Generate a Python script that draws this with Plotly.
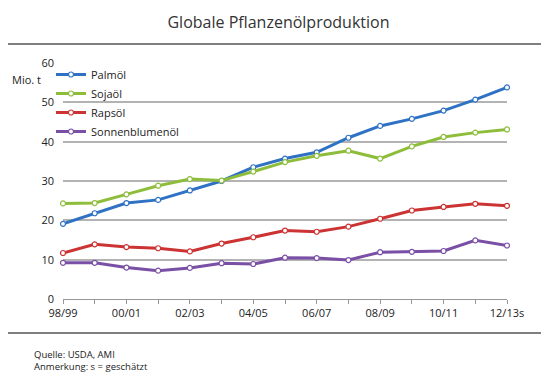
import plotly.graph_objects as go

categories = ["98/99", "99/00", "00/01", "01/02", "02/03", "03/04", "04/05", "05/06",
              "06/07", "07/08", "08/09", "09/10", "10/11", "11/12", "12/13s"]
tick_labels = ["98/99", "", "00/01", "", "02/03", "", "04/05", "",
               "06/07", "", "08/09", "", "10/11", "", "12/13s"]

palmoel = [19.1, 21.8, 24.4, 25.2, 27.6, 30.0, 33.5, 35.7, 37.3, 41.0, 44.0, 45.8, 47.9, 50.7, 53.8]
sojaoel = [24.3, 24.4, 26.6, 28.8, 30.5, 30.1, 32.4, 34.8, 36.4, 37.7, 35.7, 38.8, 41.2, 42.3, 43.1]
rapsoel = [11.7, 13.9, 13.2, 12.9, 12.1, 14.1, 15.7, 17.4, 17.1, 18.4, 20.4, 22.5, 23.4, 24.2, 23.7]
sonnenblumenoel = [9.2, 9.2, 8.0, 7.2, 7.9, 9.1, 8.9, 10.5, 10.4, 9.9, 11.9, 12.0, 12.2, 14.9, 13.6]

series = [
    ("Palmöl", palmoel, "#2f72c4"),
    ("Sojaöl", sojaoel, "#8dbd3a"),
    ("Rapsöl", rapsoel, "#cc3333"),
    ("Sonnenblumenöl", sonnenblumenoel, "#7a4fa6"),
]

fig = go.Figure()
for name, vals, col in series:
    fig.add_trace(go.Scatter(
        x=categories, y=vals, name=name, mode="lines+markers",
        line=dict(color=col, width=3),
        marker=dict(symbol="circle", size=5, color="white", line=dict(color=col, width=1.2)),
        cliponaxis=False,
    ))

# page body has an 8px default margin -> figure is 8px smaller and offset
PW, PH = 444, 236
font = "Open Sans, Noto Sans, sans-serif"
fig.update_layout(
    width=541, height=367,
    margin=dict(l=55, r=42, t=55, b=76, autoexpand=False),
    paper_bgcolor="white", plot_bgcolor="white",
    font=dict(family=font, size=11, color="#333333"),
    title=dict(text="Globale Pflanzenölproduktion", x=0.5, xanchor="center",
               y=1 - 14/367, yanchor="middle", font=dict(size=16, color="#333333")),
    showlegend=True,
    legend=dict(x=-12/PW, y=1 + 3/PH, xanchor="left", yanchor="top", bgcolor="rgba(0,0,0,0)",
                font=dict(size=11, color="#222222"), itemwidth=30, tracegroupgap=3),
    xaxis=dict(type="category", range=[0, 14], tickmode="array", tickvals=categories,
               ticktext=tick_labels, showgrid=False, showline=True, linecolor="#999999",
               linewidth=1, ticks="outside", ticklen=4, tickcolor="#999999",
               tickfont=dict(size=11, color="#222222"), zeroline=False),
    yaxis=dict(range=[0, 60], dtick=10, showgrid=True, gridcolor="#b3b3b3", gridwidth=1.5,
               zeroline=False, showline=False, ticks="", ticklabelstandoff=8,
               tickfont=dict(size=11, color="#222222")),
    shapes=[
        dict(type="line", xref="paper", yref="paper", layer="above",
             x0=-55/PW, x1=(541-55)/PW, y0=1 + (63-44)/PH, y1=1 + (63-44)/PH,
             line=dict(color="#555555", width=1.5)),
        dict(type="line", xref="paper", yref="paper", layer="above",
             x0=-55/PW, x1=(541-55)/PW, y0=-(333-299)/PH, y1=-(333-299)/PH,
             line=dict(color="#555555", width=1.5)),
    ],
    annotations=[
        dict(text="Mio. t", xref="paper", yref="paper", x=-20/PW, y=1 - (79-63)/PH,
             xanchor="right", yanchor="middle", showarrow=False,
             font=dict(size=11, color="#222222")),
        dict(text="Quelle: USDA, AMI<br>Anmerkung: s = geschätzt", xref="paper", yref="paper",
             x=-31/PW, y=-(346-299)/PH, xanchor="left", yanchor="top", align="left",
             showarrow=False, font=dict(size=9.5, color="#222222")),
    ],
)

fig.write_html("out.html")
